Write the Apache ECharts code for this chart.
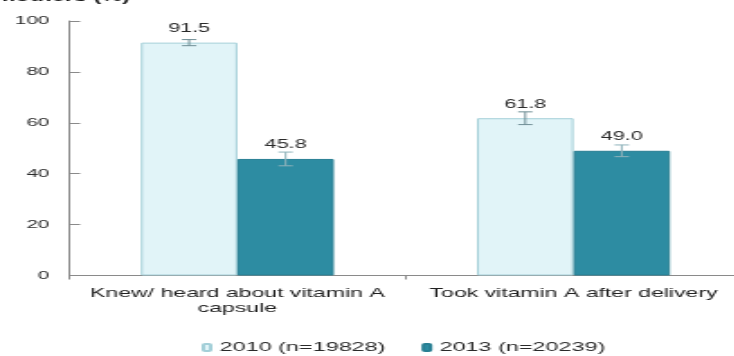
<!DOCTYPE html>
<html>
<head>
<meta charset="utf-8">
<script src="https://cdn.jsdelivr.net/npm/echarts@6/dist/echarts.min.js"></script>
<style>
  html, body { margin: 0; padding: 0; background: #fff; overflow: hidden; width: 734px; height: 356px; }
  /* the figure is laid out narrow and stretched horizontally */
  #chart { width: 412px; height: 356px; transform: scaleX(1.8); transform-origin: 0 0; }
</style>
</head>
<body>
<div id="chart"></div>
<script>
const categories = ['Knew/ heard about vitamin A\ncapsule', 'Took vitamin A after delivery'];
const seriesNames = ['2010 (n=19828)', '2013 (n=20239)'];
const values2010 = [91.5, 61.8];
const values2013 = [45.8, 49.0];
const errors2010 = [1.2, 2.5];
const errors2013 = [2.7, 2.3];
const yTicks = [0, 20, 40, 60, 80, 100];

const BAR_FRACTION = 0.287;

const chart = echarts.init(document.getElementById('chart'), null, { renderer: 'canvas' });

function errorSeries(values, errors, side, color) {
  return {
    type: 'custom',
    silent: true,
    z: 5,
    data: values.map((v, i) => [i, v, errors[i]]),
    renderItem: function (params, api) {
      const band = api.size([1, 0])[0];
      const bw = band * BAR_FRACTION;
      const c = api.coord([api.value(0), api.value(1)]);
      const x = c[0] + side * bw / 2;
      const hi = api.coord([api.value(0), api.value(1) + api.value(2)])[1];
      const lo = api.coord([api.value(0), api.value(1) - api.value(2)])[1];
      const cap = 4;
      const style = { stroke: color, lineWidth: 1 };
      return {
        type: 'group',
        children: [
          { type: 'line', shape: { x1: x, y1: hi, x2: x, y2: lo }, style: style },
          { type: 'line', shape: { x1: x - cap, y1: hi, x2: x + cap, y2: hi }, style: style },
          { type: 'line', shape: { x1: x - cap, y1: lo, x2: x + cap, y2: lo }, style: style }
        ]
      };
    }
  };
}

const labelStyle = {
  show: true,
  position: 'top',
  distance: 8,
  color: '#2a2a2a',
  fontSize: 12,
  fontFamily: 'Liberation Sans, Arial, sans-serif',
  formatter: p => p.value.toFixed(1)
};

chart.setOption({
  animation: false,
  backgroundColor: '#ffffff',
  textStyle: { fontFamily: 'Liberation Sans, Arial, sans-serif' },
  graphic: [{
    type: 'text',
    left: -3,
    top: -9,
    style: { text: 'mothers (%)', font: 'bold 13px "Liberation Sans", Arial, sans-serif', fill: '#1a1a1a' }
  }],
  grid: { left: 38.5, right: 0, top: 21, bottom: 80.5, containLabel: false },
  legend: {
    data: seriesNames,
    left: 107,
    top: 336,
    itemGap: 20,
    itemWidth: 4,
    itemHeight: 7,
    textStyle: { fontSize: 13, color: '#2a2a2a' }
  },
  xAxis: {
    type: 'category',
    data: categories,
    boundaryGap: true,
    axisLine: { lineStyle: { color: '#8a8a8a', width: 1 } },
    axisTick: { show: true, length: 4, lineStyle: { color: '#8a8a8a' } },
    axisLabel: { color: '#222', fontSize: 12.8, lineHeight: 15.5, margin: 10, interval: 0 },
    splitLine: { show: false }
  },
  yAxis: {
    type: 'value',
    min: yTicks[0],
    max: yTicks[yTicks.length - 1],
    interval: 20,
    axisLine: { show: true, lineStyle: { color: '#8a8a8a', width: 1 } },
    axisTick: { show: true, inside: true, length: 6, lineStyle: { color: '#8a8a8a' } },
    axisLabel: { color: '#2a2a2a', fontSize: 11.5, margin: 11 },
    splitLine: { show: false }
  },
  series: [
    {
      name: seriesNames[0],
      type: 'bar',
      data: values2010,
      barWidth: (BAR_FRACTION * 100) + '%',
      barGap: '0%',
      itemStyle: { color: '#e1f4f8', borderColor: '#a3cfd8', borderWidth: 1 },
      label: labelStyle
    },
    {
      name: seriesNames[1],
      type: 'bar',
      data: values2013,
      barWidth: (BAR_FRACTION * 100) + '%',
      barGap: '0%',
      itemStyle: { color: '#2d8ca2', borderColor: '#287f93', borderWidth: 1 },
      label: labelStyle
    },
    errorSeries(values2010, errors2010, -1, '#6f8e95'),
    errorSeries(values2013, errors2013, 1, '#8fb3bb')
  ]
});
</script>
</body>
</html>
